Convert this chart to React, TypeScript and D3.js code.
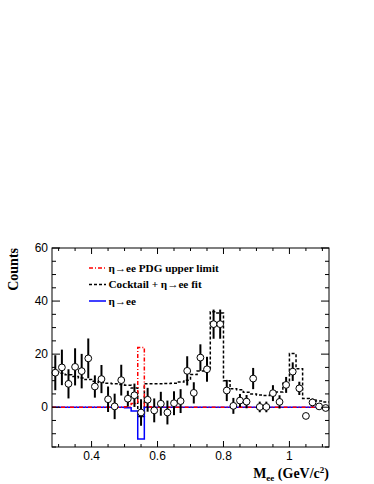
import React from "react";
import * as d3 from "d3";

// bin centres (0.02 GeV wide bins)
const massBins = [
  0.29, 0.31, 0.33, 0.35, 0.37, 0.39, 0.41, 0.43, 0.45, 0.47, 0.49, 0.51, 0.53, 0.55,
  0.57, 0.59, 0.61, 0.63, 0.65, 0.67, 0.69, 0.71, 0.73, 0.75, 0.77, 0.79, 0.81, 0.83,
  0.85, 0.87, 0.89, 0.91, 0.93, 0.95, 0.97, 0.99, 1.01, 1.03, 1.05, 1.07, 1.09, 1.11,
];
const dataCounts = [
  13, 15, 8.8, 15.2, 13.6, 18.4, 7.8, 10.6, 3.0, 0.3, 10.2, 3.2, 4.5, -2,
  2.8, -1.2, 1.3, -2, 1.5, 2.3, 13.7, 5.4, 18.7, 14.3, 31.3, 31.3, 6.3, 0.5,
  2.5, 2.1, 10.8, 0.1, 0.1, 5.3, 2, 8.4, 13.4, 7.1, -3.3, 1.8, 0.3, -0.3,
];
const dataErrors = [
  6.6, 6.7, 5.5, 7, 6.5, 7.5, 4.2, 5.3, 4.8, 4.8, 5.8, 3, 4.4, 5,
  4.5, 4.5, 4.5, 4.5, 4.5, 4.5, 5.5, 4, 5, 4.7, 5.5, 5.5, 4, 3,
  2.5, 2.5, 4, 2, 2, 3, 2.5, 3, 3.5, 2.5, 0.5, 1.5, 1, 1,
];
const cocktailFit = [
  13.4, 12.8, 12.2, 11.6, 11, 10.4, 9.8, 9.3, 9, 8.8, 8.6, 8.3, 7.2, -3.5,
  8.8, 8.8, 8.8, 8.9, 9, 9.5, 10.2, 12.3, 13.6, 14.5, 36, 35.5, 10, 7,
  6.6, 5.6, 5, 4.6, 4.4, 4.8, 5.7, 9, 20.2, 14.5, 3.3, 2.8, 2.3, 2,
];
const etaFit = [
  0, 0, 0, 0, 0, 0, 0, 0, 0, 0, 0, -0.2, -1.4, -12,
  0, 0, 0, 0, 0, 0, 0, 0, 0, 0, 0, 0, 0, 0,
  0, 0, 0, 0, 0, 0, 0, 0, 0, 0, 0, 0, 0, 0,
];
const pdgLimit = [
  0, 0, 0, 0, 0, 0, 0, 0, 0, 0, 0, 0.2, 1.4, 22.5,
  0.2, 0, 0, 0, 0, 0, 0, 0, 0, 0, 0, 0, 0, 0,
  0, 0, 0, 0, 0, 0, 0, 0, 0, 0, 0, 0, 0, 0,
];
const binWidth = 0.02;
const xTicks = [0.4, 0.6, 0.8, 1.0];
const xTickLabels = ["0.4", "0.6", "0.8", "1"];
const yTicks = [0, 20, 40, 60];
const legendItems = [
  { label: "η→ee PDG upper limit", color: "#ff0000", dash: "4,2,1,2" },
  { label: "Cocktail + η→ee fit", color: "#000000", dash: "3,2" },
  { label: "η→ee", color: "#0000ff", dash: "none" },
];

const W = 374;
const H = 484;
const left = 52, right = 329, top = 248, bottom = 447;

const x = d3.scaleLinear().domain([0.28, 1.12]).range([left, right]);
const y = d3.scaleLinear().domain([-15, 60]).range([bottom, top]);

const stepPath = (vals: number[]) => {
  const pts: [number, number][] = vals.map((v, i) => [massBins[i] - binWidth / 2, v]);
  pts.push([massBins[massBins.length - 1] + binWidth / 2, vals[vals.length - 1]]);
  return d3
    .line<[number, number]>()
    .x((d) => x(d[0]))
    .y((d) => y(d[1]))
    .curve(d3.curveStepAfter)(pts) as string;
};

const App = () => {
  const xMinor = d3.range(0.3, 1.1201, 0.05);
  const yMinor = d3.range(-15, 60.01, 5);
  const xMajLen = 6, xMinLen = 3, yMajLen = 8, yMinLen = 4;
  const sans = "'Liberation Sans', Arial, sans-serif";
  const serif = "'Liberation Serif', 'Times New Roman', serif";

  return (
    <svg
      width={W}
      height={H}
      style={{ position: "absolute", left: 0, top: 0, background: "#fff" }}
    >
      <rect x={0} y={0} width={W} height={H} fill="#fff" />

      {/* histograms */}
      <path d={stepPath(cocktailFit)} fill="none" stroke="#000" strokeWidth={1.5} strokeDasharray="3,2" />
      <path d={stepPath(etaFit)} fill="none" stroke="#0000ff" strokeWidth={1.5} />
      <path d={stepPath(pdgLimit)} fill="none" stroke="#ff0000" strokeWidth={1.5} strokeDasharray="4,2,1,2" />

      {/* data points */}
      <g>
        {massBins.map((m, i) => (
          <line
            key={"e" + i}
            x1={x(m)}
            x2={x(m)}
            y1={y(dataCounts[i] + dataErrors[i])}
            y2={y(dataCounts[i] - dataErrors[i])}
            stroke="#000"
            strokeWidth={2}
          />
        ))}
        {massBins.map((m, i) => (
          <circle key={"c" + i} cx={x(m)} cy={y(dataCounts[i])} r={3.4} fill="#fff" stroke="#000" strokeWidth={1} />
        ))}
      </g>

      {/* frame */}
      <rect x={left} y={top} width={right - left} height={bottom - top} fill="none" stroke="#000" strokeWidth={1} />

      {/* x ticks */}
      {xMinor.map((t, i) => {
        const major = xTicks.some((m) => Math.abs(m - t) < 1e-6);
        const len = major ? xMajLen : xMinLen;
        return (
          <g key={"xt" + i} stroke="#000" strokeWidth={1}>
            <line x1={x(t)} x2={x(t)} y1={bottom} y2={bottom - len} />
            <line x1={x(t)} x2={x(t)} y1={top} y2={top + len} />
          </g>
        );
      })}
      {xTicks.map((t, i) => (
        <text key={"xl" + i} x={x(t)} y={460} textAnchor="middle" fontFamily={sans} fontSize={12}>
          {xTickLabels[i]}
        </text>
      ))}

      {/* y ticks */}
      {yMinor.map((t, i) => {
        const major = Math.abs(t % 20) < 1e-6;
        const len = major ? yMajLen : yMinLen;
        return (
          <g key={"yt" + i} stroke="#000" strokeWidth={1}>
            <line x1={left} x2={left + len} y1={y(t)} y2={y(t)} />
            <line x1={right} x2={right - len} y1={y(t)} y2={y(t)} />
          </g>
        );
      })}
      {yTicks.map((t) => (
        <text key={"yl" + t} x={48} y={y(t) + 4} textAnchor="end" fontFamily={sans} fontSize={12}>
          {t}
        </text>
      ))}

      {/* axis titles */}
      <text
        transform={`translate(18,${top}) rotate(-90)`}
        textAnchor="end"
        fontFamily={serif}
        fontWeight="bold"
        fontSize={14}
      >
        Counts
      </text>
      <text x={right} y={478} textAnchor="end" fontFamily={serif} fontWeight="bold" fontSize={14}>
        M<tspan fontSize={9} dy={3}>ee</tspan>
        <tspan dy={-3}> (GeV/c</tspan>
        <tspan fontSize={9} dy={-5}>2</tspan>
        <tspan dy={5}>)</tspan>
      </text>

      {/* legend */}
      {legendItems.map((it, i) => {
        const ly = 268 + i * 16.5;
        return (
          <g key={"lg" + i}>
            <line x1={89} x2={106} y1={ly} y2={ly} stroke={it.color} strokeWidth={1.5} strokeDasharray={it.dash} />
            <text x={108.5} y={ly + 3.8} fontFamily={serif} fontWeight="bold" fontSize={11.2}>
              {it.label}
            </text>
          </g>
        );
      })}
    </svg>
  );
};

export default App;
